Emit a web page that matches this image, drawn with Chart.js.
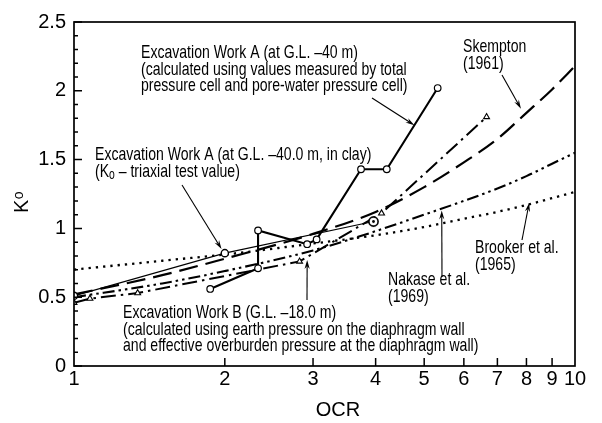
<!DOCTYPE html>
<html>
<head>
<meta charset="utf-8">
<script src="https://cdn.jsdelivr.net/npm/chart.js@4.4.1/dist/chart.umd.min.js"></script>
<style>
  html, body { margin: 0; padding: 0; background: #fff; }
  #wrap { width: 602px; height: 423px; }
</style>
</head>
<body>
<div id="wrap"><canvas id="c" width="602" height="423"></canvas></div>
<script>
// Empirical K0 - OCR relations, read on a common OCR grid
const ocrRef = [1, 1.5, 2, 3, 4, 5, 6, 7, 8, 9, 10];
const skempton1961 = [0.52, 0.66, 0.78, 0.96, 1.12, 1.30, 1.48, 1.65, 1.84, 2.01, 2.18];
const nakase1969  = [0.50, 0.60, 0.69, 0.84, 0.98, 1.10, 1.20, 1.29, 1.38, 1.47, 1.55];
const brooker1965 = [0.70, 0.765, 0.81, 0.89, 0.95, 1.01, 1.07, 1.12, 1.17, 1.22, 1.265];

// Excavation Work A, G.L. -40 m (total pressure cell + pore-water pressure cell)
const ocrWorkA = [1.87, 2.33, 2.33, 2.92, 3.05, 3.74, 4.21, 5.32];
const k0WorkA  = [0.56, 0.71, 0.985, 0.885, 0.92, 1.43, 1.43, 2.02];

// Excavation Work A, G.L. -40.0 m in clay (triaxial test values)
const ocrTriaxial = [1, 2, 3.96];
const k0Triaxial  = [0.51, 0.82, 1.05];

// Excavation Work B, G.L. -18.0 m (diaphragm wall earth pressure)
const ocrWorkB = [1.0, 1.076, 1.34, 2.82, 4.11, 6.66];
const k0WorkB  = [0.46, 0.49, 0.53, 0.76, 1.11, 1.81];

// Axis ticks
const xTicks = [1, 2, 3, 4, 5, 6, 7, 8, 9, 10];
const yTicks = [0, 0.5, 1, 1.5, 2, 2.5];

const pairs = (xs, ys) => xs.map((x, i) => ({ x, y: ys[i] }));

// Condensed text face: use the narrow family when present, otherwise squeeze the regular one
const textFace = (() => {
  const c = document.createElement('canvas').getContext('2d');
  c.font = '40px monospace';
  const w0 = c.measureText('Excavation Work').width;
  c.font = '40px "Liberation Sans Narrow", monospace';
  const w1 = c.measureText('Excavation Work').width;
  return Math.abs(w0 - w1) > 0.5
    ? { family: '"Liberation Sans Narrow"', sx: 0.9 }
    : { family: '"Liberation Sans", Arial, sans-serif', sx: 0.74 };
})();

// Bull's-eye marker for the last triaxial value
const bullseye = (() => {
  const cv = document.createElement('canvas');
  cv.width = 13; cv.height = 13;
  const g = cv.getContext('2d');
  g.fillStyle = '#fff';
  g.strokeStyle = '#000';
  g.lineWidth = 1.6;
  g.beginPath(); g.arc(6.5, 6.5, 4.6, 0, Math.PI * 2); g.fill(); g.stroke();
  g.fillStyle = '#000';
  g.beginPath(); g.arc(6.5, 6.5, 1.4, 0, Math.PI * 2); g.fill();
  return cv;
})();

// Annotation text blocks (segments marked sub are drawn as subscripts)
const notes = [
  { x: 141, y: 53, lines: [
    [{ t: 'Excavation Work A (at G.L. \u201340 m)' }],
    [{ t: '(calculated using values measured by total' }],
    [{ t: 'pressure cell and pore-water pressure cell)' }] ] },
  { x: 95, y: 155, lines: [
    [{ t: 'Excavation Work A (at G.L. \u201340.0 m, in clay)' }],
    [{ t: '(K' }, { t: 'o', sub: true }, { t: ' \u2013 triaxial test value)' }] ] },
  { x: 463, y: 47, lines: [ [{ t: 'Skempton' }], [{ t: '(1961)' }] ] },
  { x: 388, y: 280, lines: [ [{ t: 'Nakase et al.' }], [{ t: '(1969)' }] ] },
  { x: 475, y: 248, lines: [ [{ t: 'Brooker et al.' }], [{ t: '(1965)' }] ] },
  { x: 123, y: 313, lines: [
    [{ t: 'Excavation Work B (G.L. \u201318.0 m)' }],
    [{ t: '(calculated using earth pressure on the diaphragm wall' }],
    [{ t: 'and effective overburden pressure at the diaphragm wall)' }] ] }
];

// Leader arrows: tail in canvas pixels, head at a data point on the curve
const arrows = [
  { from: [372, 98],  to: { x: 4.78, y: 1.75 } },
  { from: [182, 185], to: { x: 1.97, y: 0.85 } },
  { from: [502, 75],  to: { x: 7.8,  y: 1.87 } },
  { from: [442, 277], to: { x: 5.42, y: 1.13 } },
  { from: [522, 240], to: { x: 8.1,  y: 1.185 } },
  { from: [307, 300], to: { x: 2.92, y: 0.77 } }
];

function drawSegments(ctx, segs, x, y, size) {
  ctx.save();
  ctx.translate(x, y);
  ctx.scale(textFace.sx, 1);
  let cx = 0;
  segs.forEach(s => {
    const fs = s.sub ? Math.round(size * 0.72) : size;
    ctx.font = fs + 'px ' + textFace.family;
    ctx.fillText(s.t, cx, s.sub ? 4 : 0);
    cx += ctx.measureText(s.t).width;
  });
  ctx.restore();
}

function drawArrow(ctx, x0, y0, x1, y1) {
  const ang = Math.atan2(y1 - y0, x1 - x0);
  const len = 9, half = 2.6;
  ctx.beginPath();
  ctx.moveTo(x0, y0);
  ctx.lineTo(x1 - Math.cos(ang) * len * 0.6, y1 - Math.sin(ang) * len * 0.6);
  ctx.stroke();
  const bx = x1 - Math.cos(ang) * len, by = y1 - Math.sin(ang) * len;
  ctx.beginPath();
  ctx.moveTo(x1, y1);
  ctx.lineTo(bx - Math.sin(ang) * half, by + Math.cos(ang) * half);
  ctx.lineTo(x1 - Math.cos(ang) * len * 0.65, y1 - Math.sin(ang) * len * 0.65);
  ctx.lineTo(bx + Math.sin(ang) * half, by - Math.cos(ang) * half);
  ctx.closePath();
  ctx.fill();
}

const decor = {
  id: 'decor',
  afterDraw(chart) {
    const { ctx, chartArea: a, scales: { x, y } } = chart;
    ctx.save();
    ctx.strokeStyle = '#000';
    ctx.fillStyle = '#000';

    // plot frame
    ctx.lineWidth = 1.7;
    ctx.strokeRect(a.left, a.top, a.right - a.left, a.bottom - a.top);

    // inward ticks
    ctx.lineWidth = 1.5;
    ctx.beginPath();
    yTicks.forEach(v => {
      const py = y.getPixelForValue(v);
      ctx.moveTo(a.left, py); ctx.lineTo(a.left + 8, py);
    });
    for (let i = 1; i < 25; i++) {
      if (i % 5 === 0) continue;
      const py = y.getPixelForValue(i / 10);
      ctx.moveTo(a.left, py); ctx.lineTo(a.left + 4, py);
    }
    xTicks.slice(1, -1).forEach(v => {
      const px = x.getPixelForValue(v);
      ctx.moveTo(px, a.bottom); ctx.lineTo(px, a.bottom - 8);
    });
    ctx.stroke();

    // axis titles
    ctx.textBaseline = 'middle';
    ctx.textAlign = 'center';
    ctx.font = '20px "Liberation Sans", Arial, sans-serif';
    ctx.fillText('OCR', 338, 410);

    ctx.save();
    ctx.translate(28, 213);
    ctx.rotate(-Math.PI / 2);
    ctx.textAlign = 'left';
    ctx.textBaseline = 'alphabetic';
    ctx.font = '20px "Liberation Sans", Arial, sans-serif';
    ctx.fillText('K', 0, 0);
    const kw = ctx.measureText('K').width;
    ctx.font = '14px "Liberation Sans", Arial, sans-serif';
    ctx.fillText('o', kw + 0.5, -5);
    ctx.restore();

    // annotation text
    ctx.textAlign = 'left';
    ctx.textBaseline = 'middle';
    notes.forEach(n => {
      n.lines.forEach((segs, i) => drawSegments(ctx, segs, n.x, n.y + i * 16.3, 19));
    });

    // leader arrows
    ctx.lineWidth = 1.1;
    arrows.forEach(ar => {
      drawArrow(ctx, ar.from[0], ar.from[1], x.getPixelForValue(ar.to.x), y.getPixelForValue(ar.to.y));
    });
    ctx.restore();
  }
};

const refLine = (label, ys, dash, width) => ({
  label,
  data: pairs(ocrRef, ys),
  showLine: true,
  borderColor: '#000',
  borderWidth: width,
  borderDash: dash,
  borderCapStyle: 'butt',
  cubicInterpolationMode: 'monotone',
  pointRadius: 0,
  pointHoverRadius: 0,
  fill: false
});

new Chart(document.getElementById('c'), {
  type: 'scatter',
  data: {
    datasets: [
      {
        label: 'Excavation Work A (G.L. -40 m)',
        data: pairs(ocrWorkA, k0WorkA),
        showLine: true,
        borderColor: '#000',
        borderWidth: 2.1,
        pointStyle: 'circle',
        pointRadius: 3.3,
        pointBorderWidth: 1.2,
        pointBackgroundColor: '#fff',
        pointBorderColor: '#000'
      },
      {
        label: 'Excavation Work A (triaxial)',
        data: pairs(ocrTriaxial, k0Triaxial),
        showLine: true,
        borderColor: '#000',
        borderWidth: 1.2,
        pointStyle: ['circle', 'circle', bullseye],
        pointRadius: 3.6,
        pointBorderWidth: 1.4,
        pointBackgroundColor: '#fff',
        pointBorderColor: '#000'
      },
      {
        label: 'Excavation Work B (G.L. -18.0 m)',
        data: pairs(ocrWorkB, k0WorkB),
        showLine: true,
        borderColor: '#000',
        borderWidth: 2,
        borderDash: [15, 5, 2.5, 5],
        pointStyle: 'triangle',
        pointRadius: 3.4,
        pointBorderWidth: 1.1,
        pointBackgroundColor: '#fff',
        pointBorderColor: '#000'
      },
      refLine('Skempton (1961)', skempton1961, [19, 8], 2.2),
      refLine('Nakase et al. (1969)', nakase1969, [12, 4, 2.5, 4, 2.5, 4], 2.1),
      refLine('Brooker et al. (1965)', brooker1965, [2.3, 5], 2.3)
    ]
  },
  options: {
    responsive: false,
    animation: false,
    devicePixelRatio: 1,
    layout: { padding: { top: 22, right: 27, left: 0, bottom: 0 } },
    plugins: { legend: { display: false }, tooltip: { enabled: false } },
    scales: {
      x: {
        type: 'logarithmic',
        min: 1, max: 10,
        grid: { display: false, drawTicks: false },
        border: { display: false },
        afterBuildTicks: s => { s.ticks = xTicks.map(v => ({ value: v })); },
        afterFit: s => { s.height = 57; },
        ticks: {
          autoSkip: false, maxRotation: 0, padding: 1,
          color: '#000',
          font: { family: '"Liberation Sans", Arial, sans-serif', size: 20 },
          callback: v => String(v)
        }
      },
      y: {
        min: 0, max: 2.5,
        grid: { display: false, drawTicks: false },
        border: { display: false },
        afterBuildTicks: s => { s.ticks = yTicks.map(v => ({ value: v })); },
        afterFit: s => { s.width = 74; },
        ticks: {
          padding: 8,
          color: '#000',
          font: { family: '"Liberation Sans", Arial, sans-serif', size: 20 },
          callback: v => String(v)
        }
      }
    }
  },
  plugins: [decor]
});
</script>
</body>
</html>
